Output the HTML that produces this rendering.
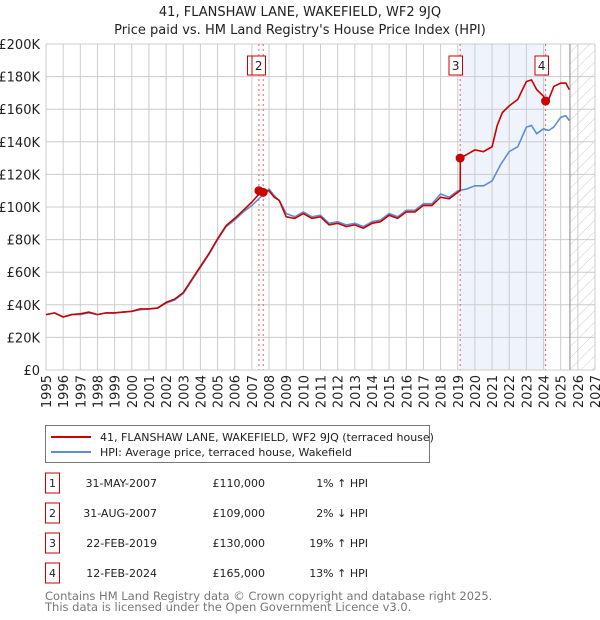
<!DOCTYPE html>
<html><head><meta charset="utf-8">
<style>
body{margin:0;background:#fff;font-family:"Liberation Sans","DejaVu Sans",sans-serif;}
#wrap{position:relative;width:600px;height:620px;overflow:hidden;}
svg text{font-family:"DejaVu Sans","Liberation Sans",sans-serif;}
</style></head>
<body>
<div id="wrap">
<svg id="chart" width="600" height="620">
<defs>
<pattern id="hatch" width="8" height="8" patternUnits="userSpaceOnUse" patternTransform="rotate(45)">
<line x1="0" y1="0" x2="0" y2="8" stroke="#ccc" stroke-width="1"/>
</pattern>
</defs>
<text x="300" y="16" text-anchor="middle" font-size="13" fill="#222">41, FLANSHAW LANE, WAKEFIELD, WF2 9JQ</text>
<text x="300" y="34" text-anchor="middle" font-size="13" fill="#222">Price paid vs. HM Land Registry's House Price Index (HPI)</text>
</svg>
</div>
<script>
const yTicks=[0,20,40,60,80,100,120,140,160,180,200];
const yTickLabels=["£0","£20K","£40K","£60K","£80K","£100K","£120K","£140K","£160K","£180K","£200K"];
const xYears=[1995,1996,1997,1998,1999,2000,2001,2002,2003,2004,2005,2006,2007,2008,2009,2010,2011,2012,2013,2014,2015,2016,2017,2018,2019,2020,2021,2022,2023,2024,2025,2026,2027];
const hpiYears=[1995,1995.5,1996,1996.5,1997,1997.5,1998,1998.5,1999,1999.5,2000,2000.5,2001,2001.5,2002,2002.5,2003,2003.5,2004,2004.5,2005,2005.5,2006,2006.5,2007,2007.5,2008,2008.3,2008.6,2009,2009.5,2010,2010.5,2011,2011.5,2012,2012.5,2013,2013.5,2014,2014.5,2015,2015.5,2016,2016.5,2017,2017.5,2018,2018.5,2019,2019.5,2020,2020.5,2021,2021.5,2022,2022.5,2023,2023.3,2023.6,2024,2024.3,2024.6,2025,2025.3,2025.5];
const hpiValues=[34,35,32.5,34,34,35,34,35,35,35.5,36,37,37.5,38,41,43,47,55,63,71,80,88,92,97,101,106,111,107,104,96,94,97,94,95,90,91,89,90,88,91,92,96,94,98,98,102,102,108,106,110,111,113,113,116,126,134,137,149,150,145,148,147,149,155,156,153];
const redYears=[1995,1995.5,1996,1996.5,1997,1997.5,1998,1998.5,1999,1999.5,2000,2000.5,2001,2001.5,2002,2002.5,2003,2003.5,2004,2004.5,2005,2005.5,2006,2006.5,2007,2007.5,2008,2008.3,2008.6,2009,2009.5,2010,2010.5,2011,2011.5,2012,2012.5,2013,2013.5,2014,2014.5,2015,2015.5,2016,2016.5,2017,2017.5,2018,2018.5,2019,2019.14,2019.15,2019.5,2020,2020.5,2021,2021.3,2021.6,2022,2022.5,2023,2023.3,2023.6,2024,2024.12,2024.3,2024.6,2025,2025.3,2025.5];
const redValues=[34,35,32.5,34,34.5,35.5,34,35,35,35.5,36,37.5,37.5,38,41.5,43.5,47.5,55.5,63.5,71.5,80.5,88.5,93,98,103,109,110,106,104,94,93,96,93,94,89,90,88,89,87,90,91,95,93,97,97,101,101,106,105,109,110,130,132,135,134,137,150,158,162,166,177,178,172,168,165,166,174,176,176,172];
const saleYears=[2007.41,2007.66,2019.14,2024.12];
const saleValues=[110,109,130,165];
const saleLabels=["1","2","3","4"];

const NS="http://www.w3.org/2000/svg";
const svg=document.getElementById('chart');
const L=46,R=595,T=44,B=370;
const xs=y=>L+(y-1995)/(2027-1995)*(R-L);
const ys=v=>B-v/200*(B-T);
function mk(tag,attrs,parent){const e=document.createElementNS(NS,tag);for(const k in attrs)e.setAttribute(k,attrs[k]);(parent||svg).appendChild(e);return e;}

let sh=mk('rect',{x:xs(saleYears[2]),y:T,width:xs(saleYears[3])-xs(saleYears[2]),height:B-T,fill:'#eef3fc'});


let hx=xs(2025.54);
let ht=mk('rect',{x:hx,y:T,width:R-hx,height:B-T,fill:'url(#hatch)'});



yTicks.forEach((v,i)=>{
 let g=mk('line',{x1:L,x2:R,y1:ys(v),y2:ys(v),stroke:'#cccccc','stroke-width':1});
 
 
 let t=mk('text',{x:40,y:ys(v)+5,'text-anchor':'end','font-size':13,fill:'#222'});
 t.textContent=yTickLabels[i];
 
 
});
xYears.forEach(y=>{
 let g=mk('line',{x1:xs(y),x2:xs(y),y1:T,y2:B,stroke:'#cccccc','stroke-width':1});
 
 
 let t=mk('text',{x:0,y:0,'text-anchor':'end','font-size':13,fill:'#222',transform:`translate(${xs(y)+5},375) rotate(-90)`});
 t.textContent=y;
 
 
});
let hl=mk('line',{x1:hx,x2:hx,y1:T,y2:B,stroke:'#888','stroke-width':1});



saleYears.forEach(y=>{
 let l=mk('line',{x1:xs(y),x2:xs(y),y1:T,y2:B,stroke:'#e06060','stroke-width':1,'stroke-dasharray':'2,3'});
 
 
});

function path(xa,va){return xa.map((x,i)=>(i?'L':'M')+xs(x).toFixed(1)+','+ys(va[i]).toFixed(1)).join('');}
let hp=mk('path',{d:path(hpiYears,hpiValues),fill:'none',stroke:'#5b8fd4','stroke-width':1.6});


let rp=mk('path',{d:path(redYears,redValues),fill:'none',stroke:'#cc0000','stroke-width':1.6});



saleYears.forEach((y,i)=>{
 let c=mk('circle',{cx:xs(y),cy:ys(saleValues[i]),r:4.5,fill:'#cc0000'});
 
 
});
const boxX=[247.5,252,449,535];
saleLabels.forEach((s,i)=>{
 let r=mk('rect',{x:boxX[i],y:56,width:13.5,height:19,fill:'#fff',stroke:'#cc0000','stroke-width':1});
 
 
 let t=mk('text',{x:boxX[i]+6.75,y:70,'text-anchor':'middle','font-size':12,fill:'#222'});
 t.textContent=s;
 
 
});
let ax=mk('line',{x1:L,x2:R,y1:B,y2:B,stroke:'#ccc','stroke-width':1});



let lg=mk('rect',{x:45.5,y:425.5,width:384,height:37,fill:'#fff',stroke:'#777','stroke-width':1});


let l1=mk('line',{x1:51,x2:91,y1:437,y2:437,stroke:'#cc0000','stroke-width':2});


let l2=mk('line',{x1:51,x2:91,y1:452,y2:452,stroke:'#5b8fd4','stroke-width':2});


let lt1=mk('text',{x:100,y:441,'font-size':11,fill:'#222'});
lt1.textContent='41, FLANSHAW LANE, WAKEFIELD, WF2 9JQ (terraced house)';


let lt2=mk('text',{x:100,y:456,'font-size':11,fill:'#222'});
lt2.textContent='HPI: Average price, terraced house, Wakefield';



const dates=["31-MAY-2007","31-AUG-2007","22-FEB-2019","12-FEB-2024"];
const prices=["£110,000","£109,000","£130,000","£165,000"];
const rel=["1% \u2191 HPI","2% \u2193 HPI","19% \u2191 HPI","13% \u2191 HPI"];
const rowY=[483,513,543,573];
saleLabels.forEach((s,i)=>{
 let y=rowY[i];
 let b=mk('rect',{x:45.5,y:y-10,width:14,height:20,fill:'#fff',stroke:'#cc0000','stroke-width':1});
 
 
 let t=mk('text',{x:52.5,y:y+4,'text-anchor':'middle','font-size':11,fill:'#222'});t.textContent=s;
 
 
 let d=mk('text',{x:157,y:y+4,'text-anchor':'end','font-size':11,fill:'#222'});d.textContent=dates[i];
 
 
 let p=mk('text',{x:265,y:y+4,'text-anchor':'end','font-size':11,fill:'#222'});p.textContent=prices[i];
 
 
 let h=mk('text',{x:368,y:y+4,'text-anchor':'end','font-size':11,fill:'#222'});h.textContent=rel[i];
 
 
});
let f1=mk('text',{x:45,y:600,'font-size':11.5,fill:'#777'});
f1.textContent='Contains HM Land Registry data © Crown copyright and database right 2025.';


let f2=mk('text',{x:45,y:611,'font-size':11.5,fill:'#777'});
f2.textContent='This data is licensed under the Open Government Licence v3.0.';


</script>
</body></html>
